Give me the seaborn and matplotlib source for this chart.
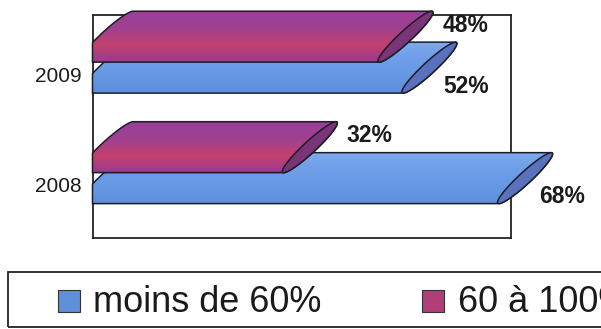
import numpy as np
import pandas as pd
import matplotlib
matplotlib.use('Agg')
import matplotlib.pyplot as plt
import seaborn as sns
from matplotlib.patches import Polygon, Rectangle
from matplotlib.colors import to_rgba

# chart data
years = ['2009', '2008']
moins_60 = [52, 68]
de_60_a_100 = [48, 32]
series = ['moins de 60%', '60 à 100%']

df = pd.DataFrame({
    'annee': years * 2,
    'tranche': [series[0]] * len(years) + [series[1]] * len(years),
    'pct': moins_60 + de_60_a_100,
})

sns.set_style('white')
plt.rcParams['font.family'] = ['Liberation Sans', 'DejaVu Sans']

# colours: gradient stops (top -> bottom), cap colour, legend colour
grad = {
    'moins de 60%': ['#7eabee', '#6e9ee8', '#6698e4', '#5e8edc'],
    '60 à 100%': ['#9a3f9a', '#a04090', '#c2416e', '#9a3a92'],
}
cap_col = {'moins de 60%': '#5a72be', '60 à 100%': '#7a3478'}
leg_col = {'moins de 60%': '#5f8fdb', '60 à 100%': '#b23e78'}
edge = '#1c1c28'

W, H = 601, 329
fig = plt.figure(figsize=(W / 100, H / 100), dpi=100)
L, R, T, B = 92.5, 511, 15, 238
ax = fig.add_axes([L / W, 1 - B / H, (R - L) / W, (B - T) / H])

XMAX = 70
YLIM = (1.591, -0.427)

sns.barplot(data=df, x='pct', y='annee', hue='tranche', order=years,
            hue_order=series[::-1], orient='h', width=0.56, errorbar=None,
            legend=False, ax=ax)

# pixel -> data factors
px_x = XMAX / (R - L)
px_y = (YLIM[0] - YLIM[1]) / (B - T)

# tilted ellipse used for the cylinder ends (pixel units, y up)
theta = np.deg2rad(42.7)
a, b = 37.0, 6.0
u = np.array([np.cos(theta), np.sin(theta)])
nv = np.array([-np.sin(theta), np.cos(theta)])
t_top = np.arctan2(b * np.cos(theta), a * np.sin(theta))
half_h = 25.5


def ellipse(t):
    return a * np.cos(t)[:, None] * u + b * np.sin(t)[:, None] * nv


def to_data(cx, cy, p):
    return np.column_stack([cx + p[:, 0] * px_x, cy - p[:, 1] * px_y])


for name, cont in zip(series[::-1], ax.containers):
    z = 4 if name == '60 à 100%' else 3
    for patch in cont.patches:
        v = patch.get_width()
        y_bot = patch.get_y() + patch.get_height()
        cy = y_bot - half_h * px_y
        xs = 14.5 * px_x
        xe = v + 26 * px_x
        patch.set_visible(False)

        left = to_data(xs, cy, ellipse(np.linspace(t_top, t_top + np.pi, 60)))
        right = to_data(xe, cy, ellipse(np.linspace(t_top + np.pi, t_top + 2 * np.pi, 60)))
        body = np.vstack([left, right])
        body[:, 0] = np.maximum(body[:, 0], 0)

        outline = Polygon(body, closed=True, facecolor='none', edgecolor=edge,
                          lw=1.1, zorder=z + 0.1, clip_on=False)
        ax.add_patch(outline)

        cols = np.array([to_rgba(c) for c in grad[name]])
        rows = np.linspace(0, 1, 64)
        img = np.stack([np.interp(rows, np.linspace(0, 1, len(cols)), cols[:, i])
                        for i in range(4)], axis=-1)[:, None, :]
        im = ax.imshow(img, extent=(0, xe + 30 * px_x, y_bot, y_bot - 2 * half_h * px_y),
                       aspect='auto', origin='upper', interpolation='bilinear', zorder=z)
        im.set_clip_box(fig.bbox)
        im.set_clip_path(outline)

        cap = Polygon(to_data(xe, cy, ellipse(np.linspace(0, 2 * np.pi, 120))),
                      closed=True, facecolor=cap_col[name], edgecolor=edge,
                      lw=1.1, zorder=z + 0.2, clip_on=False)
        ax.add_patch(cap)

        # value labels
        if name == '60 à 100%':
            lx, ly = xe + 37 * px_x, y_bot - 2 * half_h * px_y + 14 * px_y
        else:
            lx, ly = xe + 14 * px_x, y_bot - 7 * px_y
        ax.text(lx, ly, f'{v:.0f}%', ha='left', va='center', fontsize=16.5,
                fontweight='bold', color='#1a1a1a', clip_on=False, zorder=6)

ax.set_xlim(0, XMAX)
ax.set_ylim(*YLIM)
ax.set_xticks([])
ax.set_yticks(np.arange(len(years)) + 0.11, years)
ax.tick_params(axis='y', length=0, pad=8, labelsize=15, labelcolor='#1a1a1a')
ax.set_xlabel('')
ax.set_ylabel('')
for s in ax.spines.values():
    s.set_color('#222222')
    s.set_linewidth(1.3)

# legend box (runs past the right edge, as in the scan)
fig.add_artist(Rectangle((8 / W, 1 - 327 / H), 700 / W, 55 / H, transform=fig.transFigure,
                         fill=False, edgecolor='#222222', lw=1.3))
leg_pos = {'moins de 60%': (58, 93), '60 à 100%': (422, 458)}
for name in series:
    sq_x, tx = leg_pos[name]
    fig.add_artist(Rectangle((sq_x / W, 1 - 312 / H), 22 / W, 22 / H, transform=fig.transFigure,
                             facecolor=leg_col[name], edgecolor='#333333', lw=0.8))
    fig.text(tx / W, 1 - 312 / H, name, fontsize=26, color='#1a1a1a', va='baseline', ha='left')

fig.savefig('out.png', dpi=100)
